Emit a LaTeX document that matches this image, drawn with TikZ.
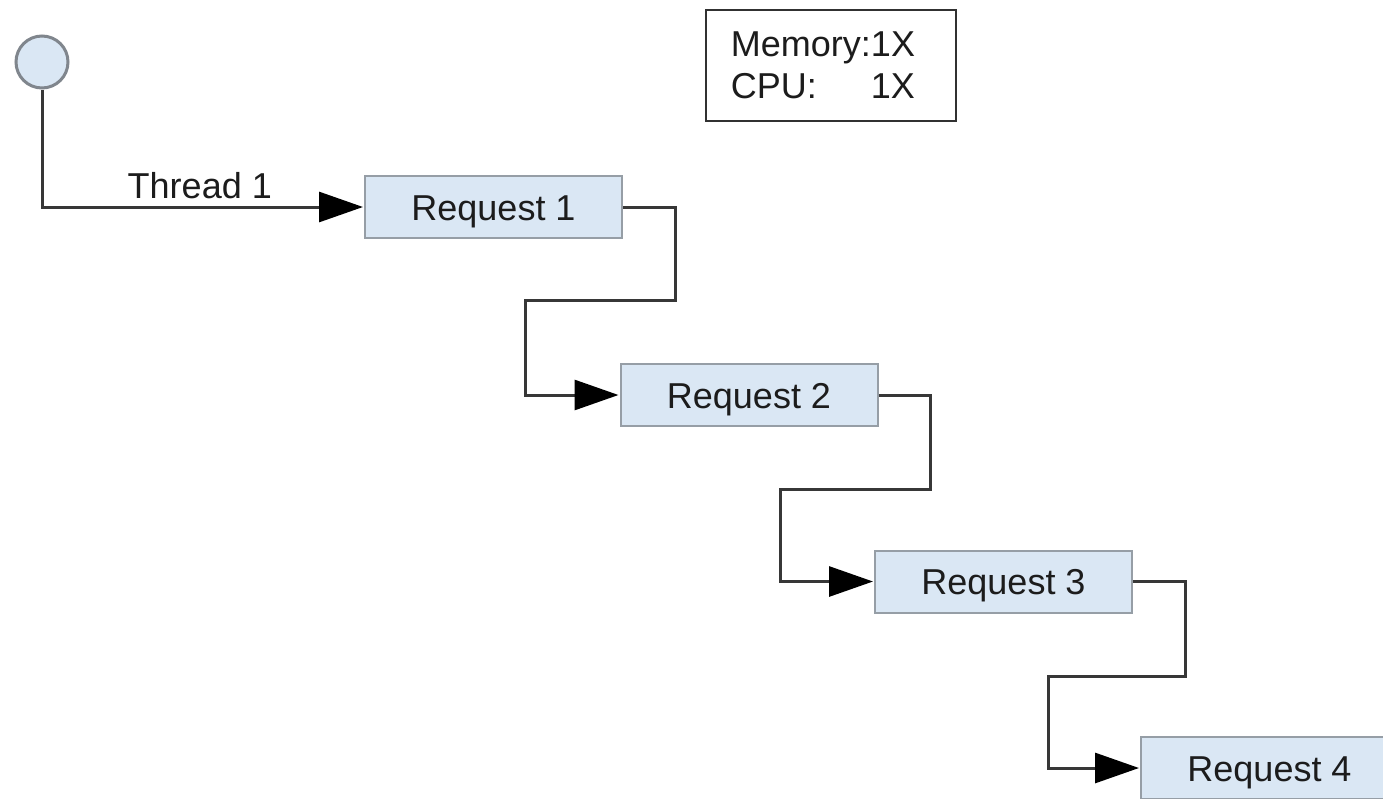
\documentclass[tikz,border=0pt]{standalone}
\usepackage{fontspec}
\setmainfont{Liberation Sans}
\usetikzlibrary{arrows.meta}
\definecolor{boxfill}{RGB}{218,231,244}
\definecolor{boxline}{RGB}{150,158,166}
\definecolor{conn}{RGB}{55,55,55}
\definecolor{txt}{RGB}{28,28,28}
\tikzset{
  reqbox/.style={draw=boxline, line width=2pt, fill=boxfill, minimum width=257pt, minimum height=62pt, inner sep=0pt, font=\fontsize{36}{42}\selectfont, text=txt, text height=26pt, text depth=0pt},
  startc/.style={circle, draw=boxline!85!black, line width=3pt, fill=boxfill, minimum size=52pt, inner sep=0pt},
  conline/.style={draw=conn, line width=3pt},
  arr/.style={conline, -{Triangle[length=44pt, width=30pt, color=black]}, shorten >=1pt},
  infobox/.style={draw=conn!90!black, line width=2.5pt, fill=white, minimum width=250pt, minimum height=111pt, inner sep=0pt, font=\fontsize{36}{42}\selectfont, text=txt}
}
\begin{document}
\begin{tikzpicture}[x=1pt,y=-1pt]
\clip (0,0) rectangle (1383,798);
\fill[white] (0,0) rectangle (1383,798);
\node[startc] (c) at (42,62) {};
\node[reqbox] (r1) at (493.5,207) {Request 1};
\node[reqbox] (r2) at (749,395) {Request 2};
\node[reqbox] (r3) at (1003.5,581.5) {Request 3};
\node[reqbox, anchor=west] (r4) at (1140,768) {Request 4};
\node[infobox] (info) at (831,65.5) {\hspace*{-8pt}\raisebox{-4pt}[\height][\depth]{\begin{tabular}{@{}l@{}r@{}}Memory:&1X\\[0pt] CPU:&1X\end{tabular}}\hspace*{8pt}};
\coordinate (b1) at (525,300);
\coordinate (b2) at (780,489);
\coordinate (b3) at (1048,676);
\draw[arr] (c.south) |- (r1.west) node[pos=0.745, above=3pt, font=\fontsize{36}{42}\selectfont, text=txt] (t1) {Thread 1};
\draw[arr] (r1.east) -| (675,300) -- (b1) |- (r2.west);
\draw[arr] (r2.east) -| (930,489) -- (b2) |- (r3.west);
\draw[arr] (r3.east) -| (1185,676) -- (b3) |- (r4.west);
\end{tikzpicture}
\end{document}
